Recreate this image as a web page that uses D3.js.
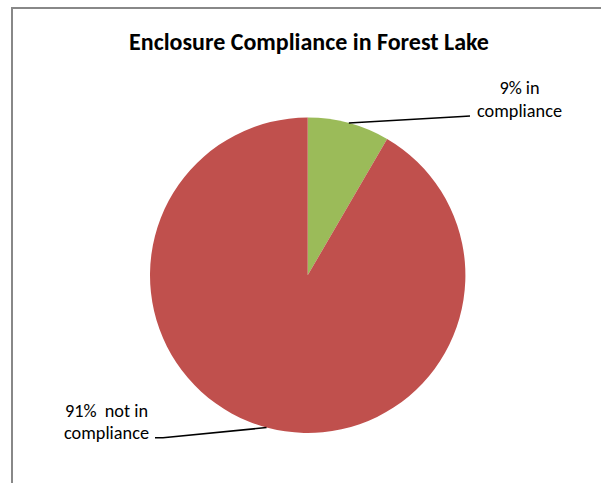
<!DOCTYPE html>
<html><head><meta charset="utf-8">
<script src="https://cdn.jsdelivr.net/npm/d3@7"></script>
<style>html,body{margin:0;padding:0;background:#fff;overflow:hidden}</style>
</head><body>
<script>
const categories = ["in compliance", "not in compliance"];
const values = [8.4, 91.6];
const labelLines = [["9% in", "compliance"], ["91%  not in", "compliance"]];
const colors = ["#9BBB59", "#C0504D"];
const title = "Enclosure Compliance in Forest Lake";

const W = 601, H = 483;
const svg = d3.select("body").append("svg").attr("width", W).attr("height", H);
svg.append("rect").attr("width", W).attr("height", H).attr("fill", "#fff");
svg.append("rect").attr("x", 12).attr("y", 8).attr("width", 700).attr("height", 600)
  .attr("fill", "none").attr("stroke", "#888").attr("stroke-width", 2);

const FONT = "Carlito, Lato, 'Open Sans', sans-serif";
const t = svg.append("text").attr("x", 309).attr("y", 50).attr("text-anchor", "middle")
  .attr("font-family", FONT).attr("font-weight", "bold").attr("font-size", 18)
  .attr("fill", "#000").text(title);
const tw = t.node().getComputedTextLength();
t.attr("font-size", 18 * 360 / tw);

const cx = 307.7, cy = 275.3, R = 157.7;
const pie = d3.pie().sort(null).value(d => d)(values);
const arc = d3.arc().innerRadius(0).outerRadius(R);
const g = svg.append("g").attr("transform", `translate(${cx},${cy})`);
g.selectAll("path").data(pie).join("path").attr("d", arc).attr("fill", (d, i) => colors[i]);

// leaders
const labelPos = [{x: 519.5, y: 94, lx: 470, ly: 116}, {x: 106.5, y: 416.7, lx: 155, ly: 437.7}];
pie.forEach((d, i) => {
  const a = (d.startAngle + d.endAngle) / 2;
  const px = cx + R * Math.sin(a), py = cy - R * Math.cos(a);
  const p = labelPos[i];
  const elbowX = i === 0 ? p.lx - 8 : p.lx + 8;
  const elbowY = i === 0 ? p.ly + 0.5 : p.ly;
  svg.append("path").attr("d", `M${px},${py}L${elbowX},${elbowY}L${p.lx},${p.ly}`)
    .attr("fill", "none").attr("stroke", "#000").attr("stroke-width", 1.6);
  const txt = svg.append("text").attr("font-family", FONT).attr("font-size", 15)
    .attr("fill", "#000").attr("text-anchor", "middle").style("white-space", "pre");
  labelLines[i].forEach((s, j) => {
    txt.append("tspan").attr("x", p.x).attr("y", p.y + j * 22.6).text(s);
  });
  const sample = txt.selectAll("tspan").nodes()[1];
  const w = sample.getComputedTextLength();
  txt.attr("font-size", 15 * 85 / w);
});
</script>
</body></html>
